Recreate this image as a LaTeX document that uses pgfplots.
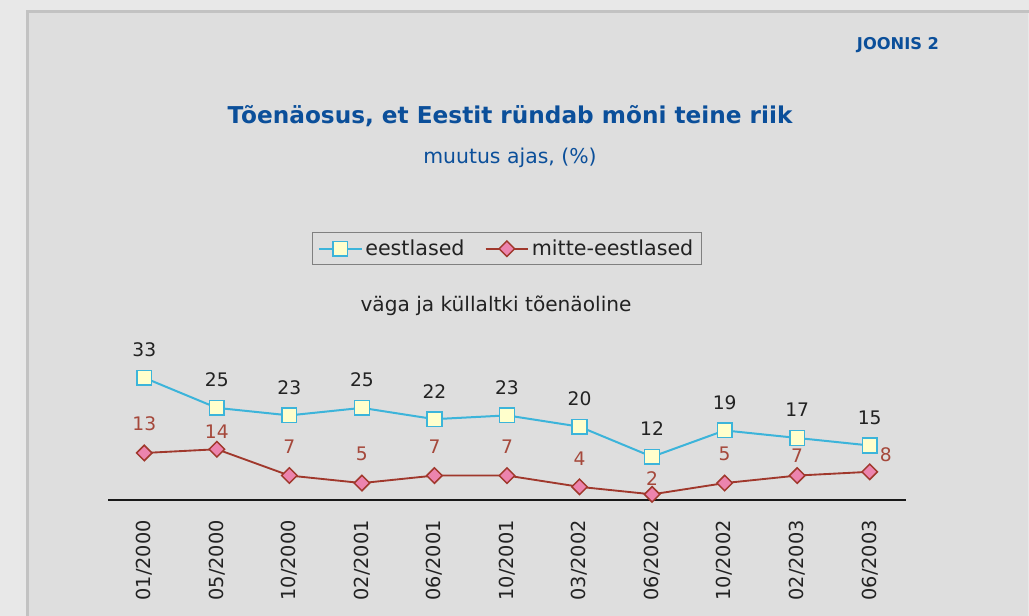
\documentclass[border=0pt]{standalone}
\usepackage{fontspec}
\setmainfont{DejaVu Sans}
\usepackage{pgfplots}
\usepackage{pgfplotstable}
\pgfplotsset{compat=1.18}

\definecolor{outerbg}{HTML}{E8E8E8}
\definecolor{panelbg}{HTML}{DEDEDE}
\definecolor{panelline}{HTML}{C2C2C2}
\definecolor{titleblue}{HTML}{0B4F9A}
\definecolor{eline}{HTML}{3CB4DA}
\definecolor{efill}{HTML}{FFFFCC}
\definecolor{mline}{HTML}{A0382C}
\definecolor{mfill}{HTML}{EC84AE}
\definecolor{mtext}{HTML}{A5483B}
\definecolor{dark}{HTML}{222222}

% square diamond, as in the original chart
\pgfdeclareplotmark{sqdiamond*}{%
  \pgfpathmoveto{\pgfqpoint{0pt}{\pgfplotmarksize}}%
  \pgfpathlineto{\pgfqpoint{\pgfplotmarksize}{0pt}}%
  \pgfpathlineto{\pgfqpoint{0pt}{-\pgfplotmarksize}}%
  \pgfpathlineto{\pgfqpoint{-\pgfplotmarksize}{0pt}}%
  \pgfpathclose\pgfusepathqfillstroke}

% x: survey index, e/m: values, dy/dx: label offsets in px
\pgfplotstableread{
x  e   m   dy  dx
0  33  13  29  0
1  25  14  18  0
2  23  7   29  0
3  25  5   29  0
4  22  7   29  0
5  23  7   29  0
6  20  4   28  0
7  12  2   16  0
8  19  5   29  0
9  17  7   20  0
10 15  8   17  16
}\datatable

\begin{document}
\begin{tikzpicture}
% background and panel (1px = 0.75pt)
\useasboundingbox (0,0) rectangle (771.75pt,-462pt);
\fill[outerbg] (0,0) rectangle (771.75pt,-462pt);
\fill[panelbg] (20.5pt,-8.5pt) rectangle (771pt,-462pt);
\draw[panelline, line width=2pt] (20.5pt,-470pt) -- (20.5pt,-8.5pt) -- (780pt,-8.5pt);

\node[font=\fontsize{12.2}{14}\selectfont\bfseries, text=titleblue] at (673.5pt,-33.75pt) {JOONIS 2};
\node[font=\fontsize{17.4}{20}\selectfont\bfseries, text=titleblue] at (382.5pt,-87pt)
    {Tõenäosus, et Eestit ründab mõni teine riik};
\node[font=\fontsize{15.3}{18}\selectfont, text=titleblue] at (382.5pt,-118.5pt) {muutus ajas, (\%)};
\node[font=\fontsize{15.1}{18}\selectfont, text=dark] at (372pt,-229.5pt) {väga ja küllaltki tõenäoline};

\begin{axis}[
    at={(81pt,-375pt)}, anchor=south west,
    scale only axis, width=598.5pt, height=97.3pt,
    xmin=-0.5, xmax=10.5, ymin=0.5, ymax=35,
    axis x line=bottom, hide y axis,
    x axis line style={-, line width=1.5pt, color=black!90},
    major tick length=0pt,
    xtick={0,...,10},
    xticklabels={01/2000,05/2000,10/2000,02/2001,06/2001,10/2001,03/2002,06/2002,10/2002,02/2003,06/2003},
    xticklabel style={rotate=90, anchor=east, inner sep=0pt,
        font=\fontsize{14.5}{17}\selectfont, text=dark},
    xticklabel shift=15pt,
    clip=false,
    /pgf/number format/assume math mode=true,
    legend columns=2,
    legend style={at={(0.5,1.937)}, anchor=center, draw=gray, fill=none,
        line width=0.6pt, inner xsep=4pt, inner ysep=3.5pt,
        font=\fontsize{15.5}{18}\selectfont, text=dark,
        /tikz/every even column/.append style={column sep=13pt}},
    legend image code/.code={
        \draw[mark repeat=2, mark phase=2] plot coordinates {(0pt,0pt) (16pt,0pt) (32pt,0pt)};},
    every node near coord/.append style={anchor=center,
        font=\fontsize{14}{16}\selectfont},
]
\addplot[eline, line width=1.5pt, mark=square*,
    mark options={fill=efill, draw=eline, line width=1.1pt}, mark size=5.5pt,
    nodes near coords,
    nodes near coords style={text=dark, yshift=21pt}]
    table[x=x, y=e] {\datatable};
\addlegendentry{eestlased}

\addplot[mline, line width=1.4pt, mark=sqdiamond*,
    mark options={fill=mfill, draw=mline, line width=1.1pt}, mark size=5.8pt,
    visualization depends on={\thisrow{dy} \as \dy},
    visualization depends on={\thisrow{dx} \as \dx},
    nodes near coords,
    nodes near coords style={text=mtext, yshift={\dy*0.75pt}, xshift={\dx*0.75pt}}]
    table[x=x, y=m] {\datatable};
\addlegendentry{mitte-eestlased}
\end{axis}
\end{tikzpicture}
\end{document}
